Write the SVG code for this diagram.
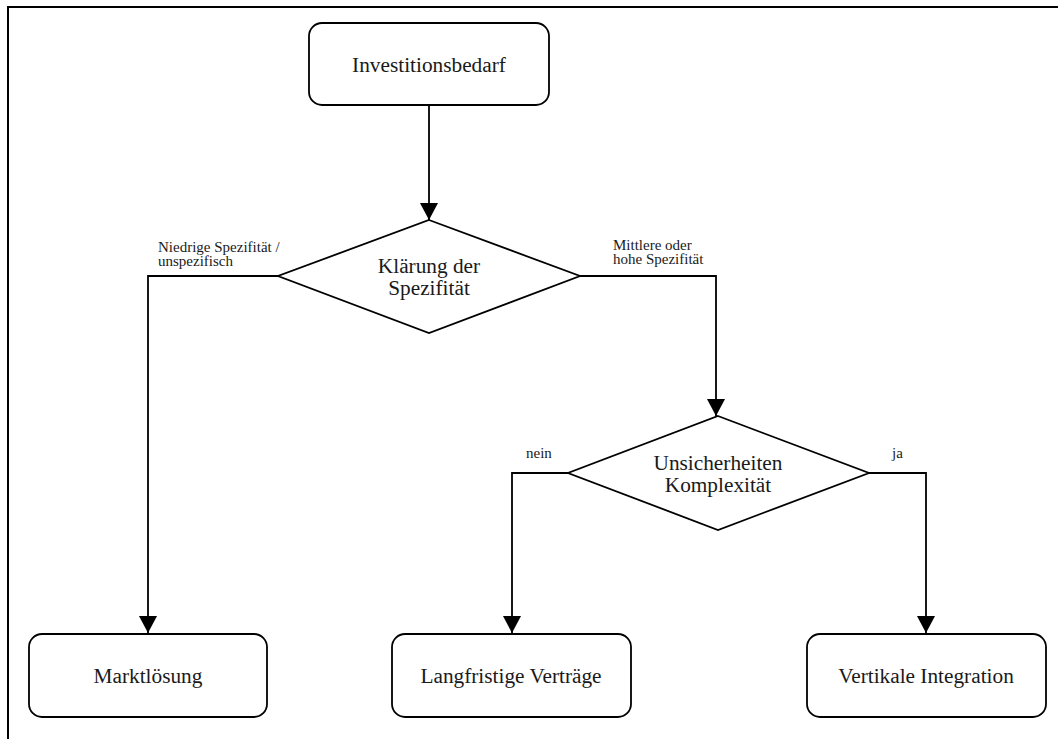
<svg xmlns="http://www.w3.org/2000/svg" width="1058" height="739" viewBox="0 0 1058 739">
  <style>
    .box { fill: #ffffff; stroke: #000000; stroke-width: 1.8; }
    .dia { fill: #ffffff; stroke: #000000; stroke-width: 1.8; stroke-linejoin: miter; }
    .edge { fill: none; stroke: #000000; stroke-width: 1.8; }
    .frame { fill: none; stroke: #000000; stroke-width: 2; }
    .t { font-family: "Liberation Serif", "DejaVu Serif", serif; font-size: 21.3px; fill: #1a1a1a; text-anchor: middle; }
    .lbl { font-family: "Liberation Serif", "DejaVu Serif", serif; font-size: 15px; fill: #1a1a1a; }
  </style>
  <defs>
    <marker id="arrow" markerUnits="userSpaceOnUse" markerWidth="18" markerHeight="18" refX="17" refY="9" orient="auto">
      <path d="M0,0 L17,9 L0,18 Z" fill="#000000"/>
    </marker>
  </defs>
  <rect width="1058" height="739" fill="#ffffff"/>
  <!-- outer frame: top and left rule only -->
  <path class="frame" d="M8,739 L8,7 L1058,7"/>

  <g id="connectors">
    <path class="edge" d="M429,106 L429,220" marker-end="url(#arrow)"/>
    <path class="edge" d="M278,276 L148,276 L148,633" marker-end="url(#arrow)"/>
    <path class="edge" d="M580,276 L716,276 L716,416" marker-end="url(#arrow)"/>
    <path class="edge" d="M568,473 L512,473 L512,633" marker-end="url(#arrow)"/>
    <path class="edge" d="M869,473 L926,473 L926,633" marker-end="url(#arrow)"/>
    <text class="lbl" x="158" y="252">Niedrige Spezifität /</text>
    <text class="lbl" x="158" y="266">unspezifisch</text>
    <text class="lbl" x="613" y="250">Mittlere oder</text>
    <text class="lbl" x="613" y="264">hohe Spezifität</text>
    <text class="lbl" x="526" y="458">nein</text>
    <text class="lbl" x="892" y="458">ja</text>
  </g>

  <g id="investitionsbedarf">
    <rect class="box" x="309" y="23" width="240" height="82" rx="13"/>
    <text class="t" x="429" y="72">Investitionsbedarf</text>
  </g>

  <g id="klaerung">
    <polygon class="dia" points="429,220 580,276 429,333 278,276"/>
    <text class="t" x="429" y="273">Klärung der</text>
    <text class="t" x="429" y="295">Spezifität</text>
  </g>

  <g id="unsicherheiten">
    <polygon class="dia" points="718,416 869,473 718,530 568,473"/>
    <text class="t" x="718" y="470">Unsicherheiten</text>
    <text class="t" x="718" y="492">Komplexität</text>
  </g>

  <g id="marktloesung">
    <rect class="box" x="29" y="634" width="238" height="83" rx="13"/>
    <text class="t" x="148" y="683">Marktlösung</text>
  </g>

  <g id="vertraege">
    <rect class="box" x="392" y="634" width="239" height="83" rx="13"/>
    <text class="t" x="511" y="683">Langfristige Verträge</text>
  </g>

  <g id="integration">
    <rect class="box" x="807" y="634" width="239" height="83" rx="13"/>
    <text class="t" x="926" y="683">Vertikale Integration</text>
  </g>
</svg>
